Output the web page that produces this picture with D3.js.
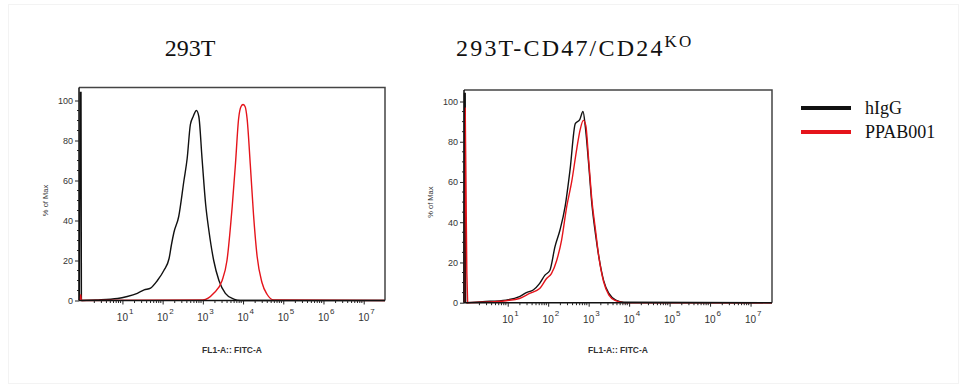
<!DOCTYPE html>
<html>
<head>
<meta charset="utf-8">
<script src="https://cdn.jsdelivr.net/npm/d3@7/dist/d3.min.js"></script>
<style>
html,body{margin:0;padding:0;background:#fff;}
svg{display:block;}
</style>
</head>
<body>
<svg id="chart" width="964" height="388"></svg>
<script>
// ---------- DATA ----------
const panelTitles = ["293T", "293T-CD47/CD24"];
const titleSup = ["", "KO"];
const seriesNames = ["hIgG", "PPAB001"];
const seriesColors = ["#111111", "#e5141b"];
const yTicks = [0, 20, 40, 60, 80, 100];
const xTickDecades = [1, 2, 3, 4, 5, 6, 7];
const xAxisLabel = "FL1-A:: FITC-A";
const yAxisLabel = "% of Max";

// log10(FL1 intensity) and % of Max — panel 1 (293T)
const p1_hIgG_log = [-0.02, 0.34, 0.88, 1.12, 1.37, 1.54, 1.70, 1.87, 2.03, 2.16, 2.22, 2.28, 2.40, 2.53, 2.61, 2.69, 2.76, 2.84, 2.90, 2.98, 3.07, 3.15, 3.27, 3.40, 3.56, 3.77, 3.93, 7.53];
const p1_hIgG_pct = [0, 0.3, 1.0, 2.0, 3.6, 5.3, 6.2, 10, 15, 21, 28, 34, 42, 60, 71, 88, 92, 95, 92, 71, 48, 35, 20, 10, 3.6, 0.7, 0, 0];
const p1_PPAB_log = [-0.02, 3.0, 3.27, 3.48, 3.60, 3.73, 3.81, 3.89, 3.95, 4.0, 4.05, 4.1, 4.18, 4.26, 4.35, 4.47, 4.60, 4.76, 7.53];
const p1_PPAB_pct = [0, 0.3, 3.6, 10, 20, 47, 68, 91, 97, 98, 97, 91, 68, 43, 22, 9, 3, 0.3, 0];

// panel 2 (293T-CD47/CD24 KO)
const p2_hIgG_log = [-0.02, 0.38, 0.96, 1.29, 1.46, 1.63, 1.79, 1.92, 2.04, 2.17, 2.29, 2.42, 2.54, 2.67, 2.78, 2.86, 2.92, 3.0, 3.08, 3.17, 3.25, 3.37, 3.5, 3.67, 3.87, 7.53];
const p2_hIgG_pct = [0, 0.5, 1.3, 3, 5, 6.3, 9.6, 13.7, 16, 28, 36, 48, 66, 89, 91, 95, 87, 69, 49, 34, 23, 11, 4.6, 1.3, 0.2, 0];
const p2_PPAB_log = [-0.02, 0.38, 0.96, 1.29, 1.54, 1.79, 1.96, 2.08, 2.21, 2.33, 2.46, 2.58, 2.71, 2.79, 2.87, 2.93, 3.0, 3.08, 3.17, 3.25, 3.37, 3.5, 3.67, 3.87, 7.53];
const p2_PPAB_pct = [0, 0.2, 1, 2.1, 4.6, 7, 12, 14.5, 21, 31, 48, 60, 77, 86, 90.6, 88, 71, 51, 36, 23, 10.4, 3.8, 1, 0, 0];

// events piled at the left edge of the axis
const p1_hIgG_spikeLog = [-0.07, -0.05, -0.03, -0.02];
const p1_hIgG_spikePct = [0, 104, 104, 0];
const p1_PPAB_spikeLog = [-0.07, -0.04, -0.02];
const p1_PPAB_spikePct = [0, 3, 0];
const p2_hIgG_spikeLog = [-0.08, -0.07, -0.05, -0.04];
const p2_hIgG_spikePct = [0, 104, 104, 0];
const p2_PPAB_spikeLog = [-0.07, -0.05, -0.03, -0.01, 0.01];
const p2_PPAB_spikePct = [0, 97, 55, 15, 0];

// ---------- LAYOUT ----------
const panels = [
  {x0: 79, x1: 385, y0: 300.5, y100: 100.5, top: 87.5, titleX: 190, titleAnchor: "middle", titleSpacing: 0,
   series: [[p1_hIgG_log, p1_hIgG_pct, p1_hIgG_spikeLog, p1_hIgG_spikePct],
            [p1_PPAB_log, p1_PPAB_pct, p1_PPAB_spikeLog, p1_PPAB_spikePct]]},
  {x0: 464, x1: 772, y0: 302.7, y100: 101.5, top: 90, titleX: 456, titleAnchor: "start", titleSpacing: 2.2,
   series: [[p2_hIgG_log, p2_hIgG_pct, p2_hIgG_spikeLog, p2_hIgG_spikePct],
            [p2_PPAB_log, p2_PPAB_pct, p2_PPAB_spikeLog, p2_PPAB_spikePct]]}
];

const svg = d3.select("#chart");
svg.append("rect").attr("x", 8.5).attr("y", 4.5).attr("width", 950).attr("height", 379)
  .attr("fill", "none").attr("stroke", "#f3f3f3");

const sans = "Arial, 'Liberation Sans', sans-serif";
const serif = "'Times New Roman', 'Liberation Serif', serif";

panels.forEach((p, i) => {
  const x = d3.scaleLinear().domain([-0.08, 7.53]).range([p.x0, p.x1]);
  const y = d3.scaleLinear().domain([0, 100]).range([p.y0, p.y100]);
  const g = svg.append("g");

  // title
  const t = g.append("text").attr("x", p.titleX).attr("y", 56)
    .attr("text-anchor", p.titleAnchor).attr("letter-spacing", p.titleSpacing)
    .attr("font-family", serif).attr("font-size", 24).attr("fill", "#111")
    .text(panelTitles[i]);
  if (titleSup[i]) t.append("tspan").attr("dy", -9).attr("font-size", 17).text(titleSup[i]);

  // curves
  const line = d3.line().x(d => x(d[0])).y(d => y(d[1])).curve(d3.curveMonotoneX);
  const lineLin = d3.line().x(d => x(d[0])).y(d => y(d[1]));
  p.series.forEach((s, k) => {
    const pts = s[0].map((v, j) => [v, s[1][j]]);
    const sp = s[2].map((v, j) => [v, s[3][j]]);
    g.append("path").attr("d", line(pts)).attr("fill", "none")
      .attr("stroke", seriesColors[k]).attr("stroke-width", 1.4).attr("stroke-linejoin", "round");
    g.append("path").attr("d", lineLin(sp)).attr("fill", "none")
      .attr("stroke", seriesColors[k]).attr("stroke-width", 1.4);
  });

  // frame top & right
  g.append("path").attr("d", `M${p.x0},${p.top}H${p.x1}V${p.y0}`)
    .attr("fill", "none").attr("stroke", "#444").attr("stroke-width", 1.5);

  // y axis
  const yAxis = d3.axisLeft(y).tickValues(yTicks).tickSize(4).tickFormat(d3.format("d"));
  const ya = g.append("g").attr("transform", `translate(${p.x0},0)`).call(yAxis);
  ya.select(".domain").attr("d", `M0,${p.top}V${p.y0}`).attr("stroke", "#111").attr("stroke-width", 1.5);
  ya.selectAll(".tick line").attr("stroke", "#222");
  ya.selectAll(".tick text").attr("font-family", sans).attr("font-size", 9).attr("fill", "#333").attr("x", -6);
  const yMinor = d3.range(5, 105, 5).filter(v => v % 20 !== 0);
  g.selectAll(null).data(yMinor).enter().append("line")
    .attr("x1", p.x0 - 2).attr("x2", p.x0).attr("y1", d => y(d)).attr("y2", d => y(d))
    .attr("stroke", "#222");

  // x axis
  const xAxis = d3.axisBottom(x).tickValues(xTickDecades).tickSize(4).tickFormat("");
  const xa = g.append("g").attr("transform", `translate(0,${p.y0})`).call(xAxis);
  xa.select(".domain").attr("d", `M${p.x0},0H${p.x1}`).attr("stroke", "#111").attr("stroke-width", 1.5);
  xa.selectAll(".tick line").attr("stroke", "#222");
  const minor = [];
  for (let k = 0; k < 7; k++) for (let m = 2; m <= 9; m++) minor.push(k + Math.log10(m));
  g.selectAll(null).data(minor.filter(v => v < 7.5)).enter().append("line")
    .attr("x1", d => x(d)).attr("x2", d => x(d)).attr("y1", p.y0).attr("y2", p.y0 + 2.5)
    .attr("stroke", "#222");
  xTickDecades.forEach(dc => {
    g.append("text").attr("x", x(dc)).attr("y", p.y0 + 20).attr("text-anchor", "middle")
      .attr("font-family", sans).attr("font-size", 10).attr("fill", "#333").text("10");
    g.append("text").attr("x", x(dc) + 6.5).attr("y", p.y0 + 13).attr("text-anchor", "start")
      .attr("font-family", sans).attr("font-size", 8).attr("fill", "#333").text(String(dc));
  });

  // axis labels
  g.append("text").attr("x", (p.x0 + p.x1) / 2).attr("y", 353).attr("text-anchor", "middle")
    .attr("font-family", sans).attr("font-size", 8.5).attr("font-weight", "bold").attr("fill", "#333")
    .text(xAxisLabel);
  const yc = (p.y0 + p.y100) / 2;
  g.append("text").attr("transform", `translate(${p.x0 - 31},${yc}) rotate(-90)`)
    .attr("text-anchor", "middle").attr("font-family", sans).attr("font-size", 7.5).attr("fill", "#333")
    .text(yAxisLabel);
});

// legend
const lg = svg.append("g");
seriesNames.forEach((n, k) => {
  const yy = 108 + k * 24;
  lg.append("line").attr("x1", 801).attr("x2", 851).attr("y1", yy).attr("y2", yy)
    .attr("stroke", seriesColors[k]).attr("stroke-width", 4);
  lg.append("text").attr("x", 865).attr("y", yy + 6).attr("font-family", serif)
    .attr("font-size", 18).attr("fill", "#111").text(n);
});
</script>
</body>
</html>
